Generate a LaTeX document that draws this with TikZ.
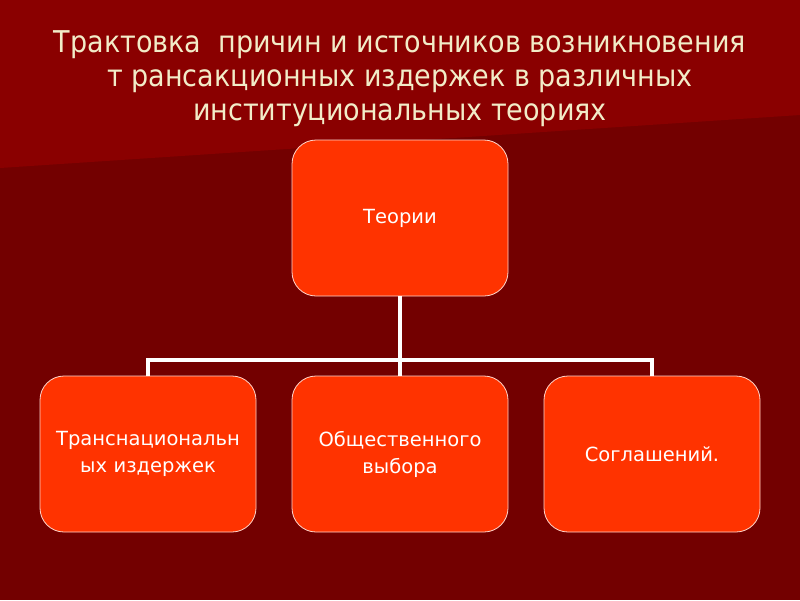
\documentclass[tikz,border=0pt]{standalone}
\usepackage{fontspec}
\setmainfont{DejaVu Sans Condensed}
\newfontfamily\boxfont{DejaVu Sans}
\definecolor{bgdark}{HTML}{730000}
\definecolor{bglight}{HTML}{8A0000}
\definecolor{boxred}{HTML}{FF3300}
\definecolor{titlecol}{HTML}{F2ECC8}
\begin{document}
\begin{tikzpicture}[x=1pt,y=-1pt,
  box/.style={draw=white!80!boxred,line width=0.8pt,fill=boxred,rounded corners=24pt,minimum width=216pt,minimum height=156pt,text=white,align=center,font=\boxfont\fontsize{19.5}{27}\selectfont,text width=210pt,inner sep=2pt},
  conn/.style={draw=white,line width=4pt}]
\fill[bgdark] (0,0) rectangle (800,600);
\fill[bglight] (0,0) -- (800,0) -- (800,115) -- (0,168) -- cycle;
\useasboundingbox (0,0) rectangle (800,600);
\node (title) [text=titlecol,align=center,font=\fontsize{30}{34}\selectfont] at (400,79) {Трактовка\ \ причин и источников возникновения\\т рансакционных издержек в различных\\институциональных теориях};
\node[box] (top) at (400,218) {Теории};
\node[box] (b1) at (148,454) {Транснациональн\\ых издержек};
\node[box] (b2) at (400,454) {Общественного\\выбора};
\node[box] (b3) at (652,454) {Соглашений.};
\coordinate (h) at (400,360);
\draw[conn] (top.south) -- (h);
\draw[conn] (b1.north) |- (h) -| (b3.north);
\draw[conn] (h) -- (b2.north);
\end{tikzpicture}
\end{document}
